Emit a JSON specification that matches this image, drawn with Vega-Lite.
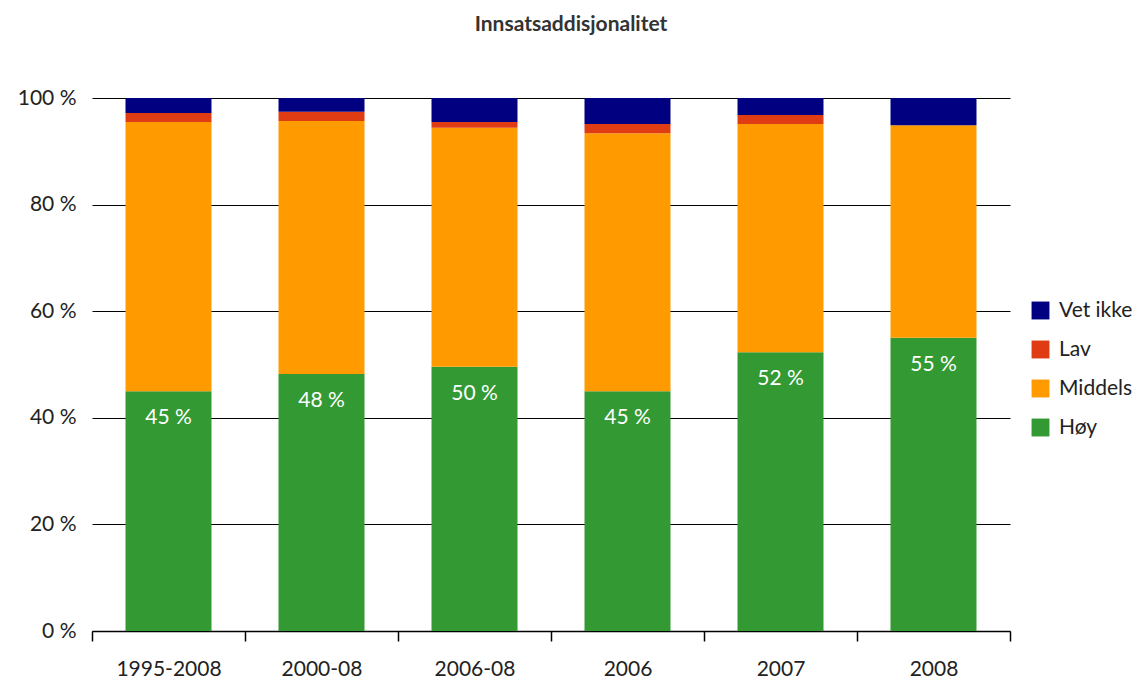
{
  "$schema": "https://vega.github.io/schema/vega-lite/v6.json",
  "autosize": {"type": "none"},
  "width": 918,
  "height": 533,
  "padding": {"left": 92, "top": 98, "right": 130, "bottom": 50},
  "background": "white",
  "config": {
    "font": "Lato",
    "view": {"stroke": null}
  },
  "title": {
    "text": "Innsatsaddisjonalitet",
    "font": "Lato",
    "fontSize": 21,
    "fontWeight": "bold",
    "color": "#333333",
    "anchor": "middle",
    "dx": 20,
    "offset": 52
  },
  "data": {
    "values": [
      {"periode": "1995-2008", "svar": "Høy", "rekkefolge": 1, "andel": 45.0, "etikett": "45 %"},
      {"periode": "1995-2008", "svar": "Middels", "rekkefolge": 2, "andel": 50.5, "etikett": ""},
      {"periode": "1995-2008", "svar": "Lav", "rekkefolge": 3, "andel": 1.7, "etikett": ""},
      {"periode": "1995-2008", "svar": "Vet ikke", "rekkefolge": 4, "andel": 2.8, "etikett": ""},
      {"periode": "2000-08", "svar": "Høy", "rekkefolge": 1, "andel": 48.2, "etikett": "48 %"},
      {"periode": "2000-08", "svar": "Middels", "rekkefolge": 2, "andel": 47.5, "etikett": ""},
      {"periode": "2000-08", "svar": "Lav", "rekkefolge": 3, "andel": 1.7, "etikett": ""},
      {"periode": "2000-08", "svar": "Vet ikke", "rekkefolge": 4, "andel": 2.6, "etikett": ""},
      {"periode": "2006-08", "svar": "Høy", "rekkefolge": 1, "andel": 49.6, "etikett": "50 %"},
      {"periode": "2006-08", "svar": "Middels", "rekkefolge": 2, "andel": 44.8, "etikett": ""},
      {"periode": "2006-08", "svar": "Lav", "rekkefolge": 3, "andel": 1.1, "etikett": ""},
      {"periode": "2006-08", "svar": "Vet ikke", "rekkefolge": 4, "andel": 4.5, "etikett": ""},
      {"periode": "2006", "svar": "Høy", "rekkefolge": 1, "andel": 45.0, "etikett": "45 %"},
      {"periode": "2006", "svar": "Middels", "rekkefolge": 2, "andel": 48.4, "etikett": ""},
      {"periode": "2006", "svar": "Lav", "rekkefolge": 3, "andel": 1.7, "etikett": ""},
      {"periode": "2006", "svar": "Vet ikke", "rekkefolge": 4, "andel": 4.9, "etikett": ""},
      {"periode": "2007", "svar": "Høy", "rekkefolge": 1, "andel": 52.3, "etikett": "52 %"},
      {"periode": "2007", "svar": "Middels", "rekkefolge": 2, "andel": 42.8, "etikett": ""},
      {"periode": "2007", "svar": "Lav", "rekkefolge": 3, "andel": 1.7, "etikett": ""},
      {"periode": "2007", "svar": "Vet ikke", "rekkefolge": 4, "andel": 3.2, "etikett": ""},
      {"periode": "2008", "svar": "Høy", "rekkefolge": 1, "andel": 55.0, "etikett": "55 %"},
      {"periode": "2008", "svar": "Middels", "rekkefolge": 2, "andel": 39.9, "etikett": ""},
      {"periode": "2008", "svar": "Lav", "rekkefolge": 3, "andel": 0.0, "etikett": ""},
      {"periode": "2008", "svar": "Vet ikke", "rekkefolge": 4, "andel": 5.1, "etikett": ""}
    ]
  },
  "encoding": {
    "x": {
      "field": "periode",
      "type": "nominal",
      "sort": ["1995-2008", "2000-08", "2006-08", "2006", "2007", "2008"],
      "scale": {"paddingInner": 0, "paddingOuter": 0},
      "axis": {
        "title": null,
        "labelAngle": 0,
        "labelFont": "Lato",
        "labelFontSize": 21,
        "labelColor": "#222222",
        "labelPadding": 17,
        "domainColor": "#000000",
        "domainWidth": 1.5,
        "tickColor": "#000000",
        "tickSize": 10,
        "tickWidth": 1.5,
        "tickBand": "extent",
        "grid": false
      }
    }
  },
  "layer": [
    {
      "mark": {"type": "bar", "width": {"band": 0.562}},
      "encoding": {
        "y": {
          "field": "andel",
          "type": "quantitative",
          "stack": "zero",
          "scale": {"domain": [0, 100], "nice": false},
          "axis": {
            "title": null,
            "values": [0, 20, 40, 60, 80, 100],
            "labelExpr": "datum.value + ' %'",
            "labelFont": "Lato",
            "labelFontSize": 21,
            "labelColor": "#222222",
            "labelPadding": 16,
            "ticks": false,
            "domain": false,
            "grid": true,
            "gridColor": "#000000",
            "gridWidth": 1.2
          }
        },
        "color": {
          "field": "svar",
          "type": "nominal",
          "scale": {
            "domain": ["Vet ikke", "Lav", "Middels", "Høy"],
            "range": ["#000080", "#E03C14", "#FF9A00", "#339933"]
          },
          "legend": {
            "title": null,
            "orient": "none",
            "legendX": 938,
            "legendY": 202,
            "symbolType": "square",
            "symbolSize": 320,
            "symbolStrokeWidth": 0,
            "labelFont": "Lato",
            "labelFontSize": 21,
            "labelColor": "#222222",
            "rowPadding": 17,
            "labelOffset": 8
          }
        },
        "order": {"field": "rekkefolge", "type": "quantitative", "sort": "ascending"}
      }
    },
    {
      "transform": [{"filter": "datum.svar === 'Høy'"}],
      "mark": {
        "type": "text",
        "color": "white",
        "font": "Lato",
        "fontSize": 21,
        "baseline": "middle",
        "dy": 27
      },
      "encoding": {
        "y": {"field": "andel", "type": "quantitative"},
        "text": {"field": "etikett", "type": "nominal"}
      }
    }
  ]
}
